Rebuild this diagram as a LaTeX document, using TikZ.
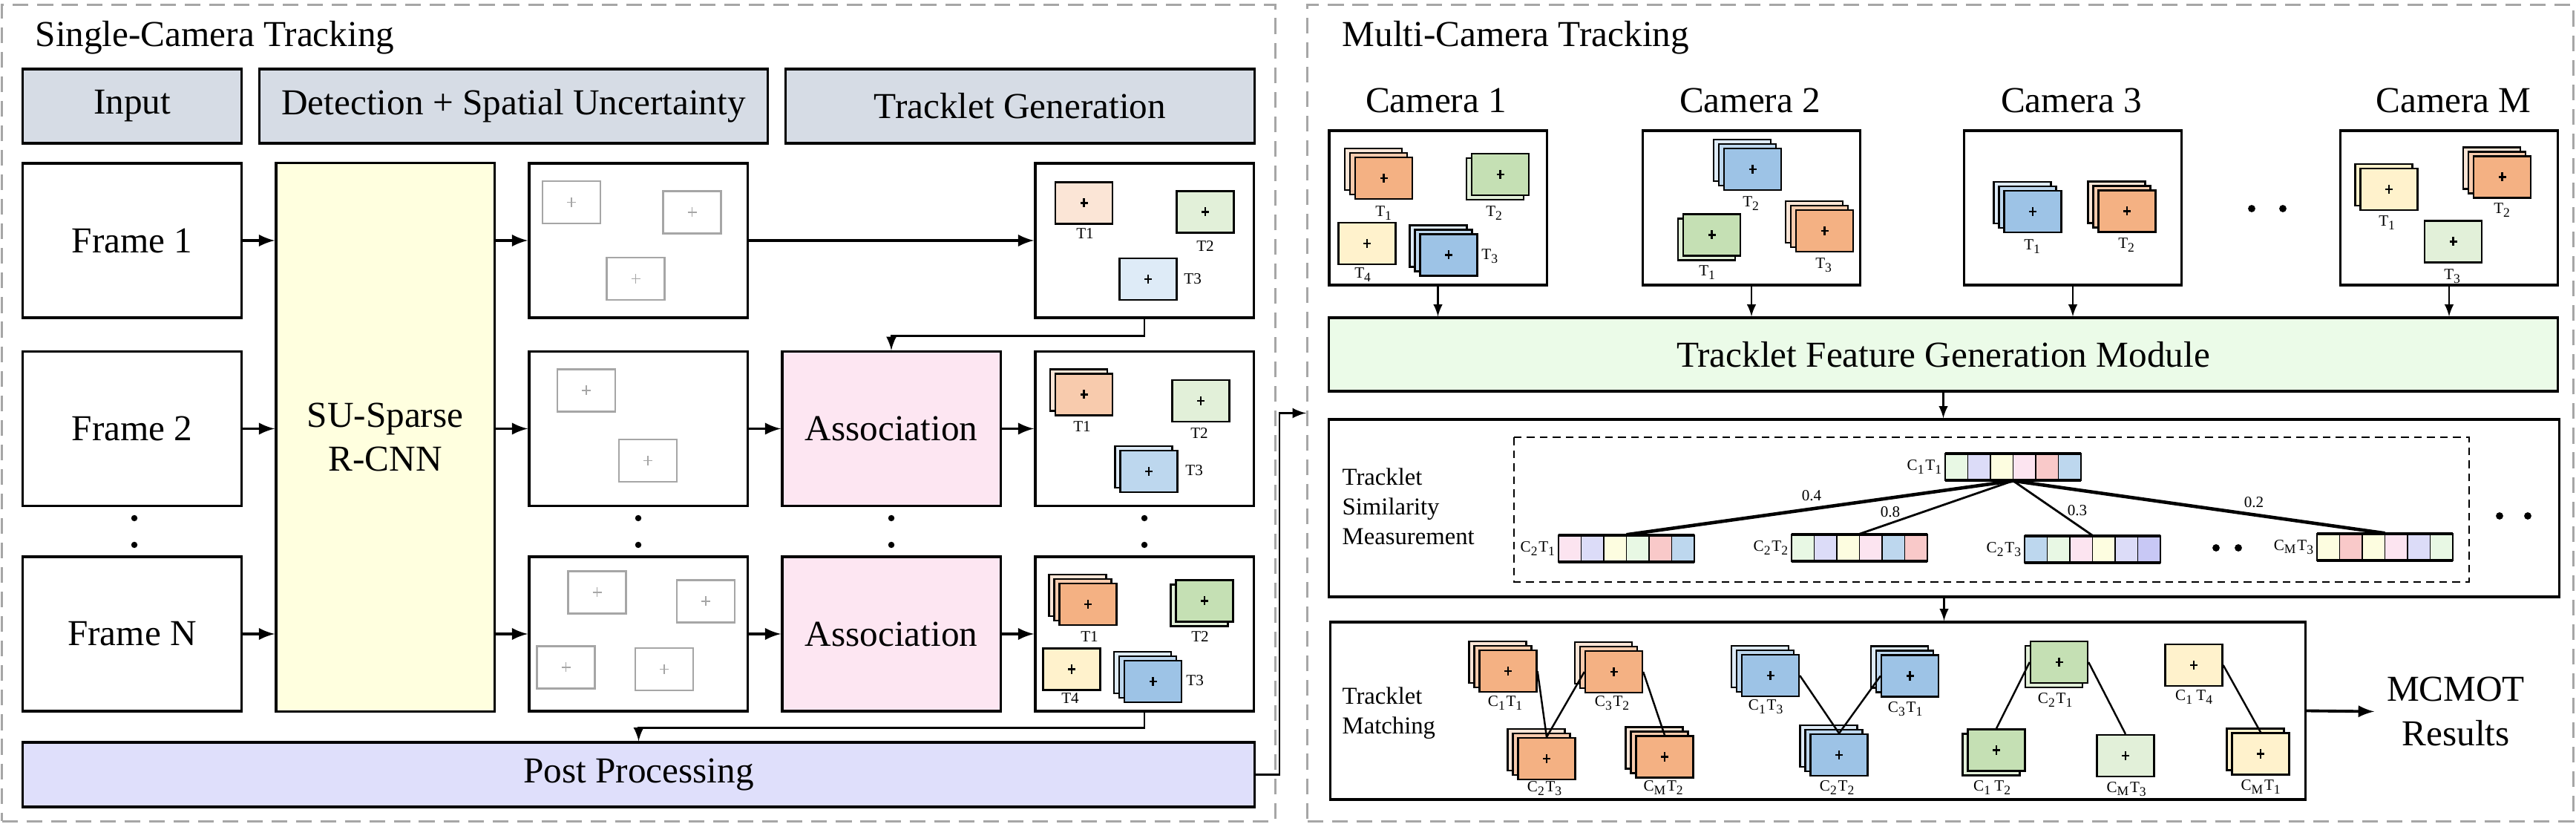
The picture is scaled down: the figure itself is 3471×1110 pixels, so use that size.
\documentclass[tikz,border=0pt]{standalone}
\usepackage{fontspec}
\setmainfont{Liberation Serif}
\usepackage{xcolor}
\usetikzlibrary{arrows}
\definecolor{dashgray}{HTML}{A6A6A6}
\definecolor{headgray}{HTML}{D6DCE5}
\definecolor{rcnnyellow}{HTML}{FFFFDF}
\definecolor{assocpink}{HTML}{FDE6F2}
\definecolor{postblue}{HTML}{DFDFFB}
\definecolor{featgreen}{HTML}{EBFBE8}
\definecolor{or1}{HTML}{FBE5D6}
\definecolor{or2}{HTML}{F8CBAD}
\definecolor{or3}{HTML}{F4B183}
\definecolor{bl1}{HTML}{DEEBF7}
\definecolor{bl2}{HTML}{BDD7EE}
\definecolor{bl3}{HTML}{9DC3E6}
\definecolor{gr1}{HTML}{E2F0D9}
\definecolor{gr2}{HTML}{C5E0B4}
\definecolor{ye1}{HTML}{FFF2CC}
\definecolor{cg}{HTML}{E8F8E4}
\definecolor{cl}{HTML}{DCDCF8}
\definecolor{cy}{HTML}{FDFDE0}
\definecolor{cp}{HTML}{FCE4F0}
\definecolor{cr}{HTML}{F9C9C9}
\definecolor{cb}{HTML}{BDD7EE}
\definecolor{cv}{HTML}{C8C8F5}

% tracklet cards
\newcommand{\backcard}[3]{\draw[backcard, fill=#3] (#1-38.5,#2-28) rectangle (#1+38.5,#2+28);}
\newcommand{\stackthree}[6]{\backcard{#2-14}{#3-12}{#4}\backcard{#2-7}{#3-6}{#5}\node[icon=#6] (#1) at (#2,#3) {};}
\newcommand{\stackup}[5]{\backcard{#2-7}{#3-6}{#4}\node[icon=#5] (#1) at (#2,#3) {};}
\newcommand{\stackdown}[5]{\backcard{#2-7}{#3+6}{#4}\node[icon=#5] (#1) at (#2,#3) {};}
\newcommand{\single}[4]{\node[icon=#4] (#1) at (#2,#3) {};}
% detections
\newcommand{\detbox}[2]{\draw[detgray] (#1-39,#2-28.5) rectangle (#1+39,#2+28.5);
  \draw[detplus] (#1,#2-6.5) -- (#1,#2+6.5) (#1-6,#2) -- (#1+6,#2);}
% feature vectors
\newcommand{\fvec}[5]{%
  \foreach \cc [count=\ii] in {#4}
    \draw[cell, fill=\cc] (#2+\ii*30.5-30.5,#3) rectangle ++(30.5,36);
  \draw[line width=1.3pt] (#2,#3) -- ++(183,0) (#2,#3+36) -- ++(183,0);
  \node[inner sep=0pt, minimum width=1.83cm, minimum height=0.36cm] (#1) at (#2+91.5,#3+18) {};
  \node[lab, anchor=east] (#1l) at (#1.west) {#5};}

\begin{document}
\begin{tikzpicture}[x=0.01cm, y=-0.01cm,
  every node/.style={font=\fontsize{14}{17}\selectfont},
  dashframe/.style={draw=dashgray, dash pattern=on 6pt off 3.4pt, line width=0.95pt, inner sep=0pt},
  box/.style={draw, line width=0.9pt, inner sep=0pt, align=center},
  icon/.style={draw, line width=0.65pt, fill=#1, minimum width=0.77cm, minimum height=0.56cm, inner sep=0pt,
    path picture={\draw[line width=0.8pt] ([yshift=0.06cm]path picture bounding box.center) -- ([yshift=-0.06cm]path picture bounding box.center)
      ([xshift=-0.05cm]path picture bounding box.center) -- ([xshift=0.05cm]path picture bounding box.center);}},
  backcard/.style={draw, line width=0.65pt},
  detgray/.style={draw=dashgray, line width=0.8pt},
  detplus/.style={draw=dashgray, line width=0.5pt},
  lab/.style={font=\fontsize{6}{7}\selectfont, inner sep=0.5pt},
  sidetext/.style={font=\fontsize{9.3}{11.4}\selectfont, inner sep=0pt, align=left},
  arr/.style={-latex, line width=1.1pt},
  elb/.style={-latex, line width=0.8pt},
  thinarr/.style={-latex, line width=0.6pt},
  cell/.style={draw, line width=0.4pt},
  simdash/.style={draw, dash pattern=on 3pt off 2pt, line width=0.6pt}]
  \useasboundingbox (0,0) rectangle (3471,1110);

  % ---------------- single camera ----------------
  \node[dashframe, minimum width=17.15cm, minimum height=10.99cm] (sct) at (860.5,556.5) {};
  \node[anchor=base west, inner sep=0pt] (sctitle) at (47,63) {Single-Camera Tracking};

  \node[box, fill=headgray, minimum width=2.94cm, minimum height=1cm] (hin) at (178,143) {Input};
  \node[box, fill=headgray, minimum width=6.84cm, minimum height=1cm] (hdet) at (692,143) {Detection + Spatial Uncertainty};
  \node[box, fill=headgray, minimum width=6.31cm, minimum height=1cm] (htrk) at (1374.5,143) {Tracklet Generation};

  \node[box, minimum width=2.94cm, minimum height=2.08cm] (frame1) at (178,324) {Frame 1};
  \node[box, minimum width=2.94cm, minimum height=2.08cm] (frame2) at (178,577.5) {Frame 2};
  \node[box, minimum width=2.94cm, minimum height=2.08cm] (frameN) at (178,854) {Frame N};
  \node[box, fill=rcnnyellow, minimum width=2.94cm, minimum height=7.38cm] (rcnn) at (519,589) {SU-Sparse\\R-CNN};

  \node[box, minimum width=2.94cm, minimum height=2.08cm] (det1) at (860,324) {};
  \node[box, minimum width=2.94cm, minimum height=2.08cm] (det2) at (860,577.5) {};
  \node[box, minimum width=2.94cm, minimum height=2.08cm] (detN) at (860,854) {};
  \node[box, fill=assocpink, minimum width=2.94cm, minimum height=2.08cm] (assoc2) at (1201,577.5) {Association};
  \node[box, fill=assocpink, minimum width=2.94cm, minimum height=2.08cm] (assocN) at (1201,854) {Association};
  \node[box, minimum width=2.94cm, minimum height=2.08cm] (trk1) at (1542,324) {};
  \node[box, minimum width=2.94cm, minimum height=2.08cm] (trk2) at (1542,577.5) {};
  \node[box, minimum width=2.94cm, minimum height=2.08cm] (trkN) at (1542,854) {};
  \node[box, fill=postblue, minimum width=16.59cm, minimum height=0.87cm] (post) at (860.5,1043.5) {Post Processing};

  % detections
  \detbox{770}{272.5} \detbox{932.5}{286} \detbox{856.5}{375.5}
  \detbox{790}{526} \detbox{873}{620.5}
  \detbox{804.5}{798} \detbox{951}{810} \detbox{762.5}{899} \detbox{895}{901.5}

  % tracklets
  \single{r1t1}{1460.5}{273.5}{or1}
  \single{r1t2}{1624}{285.5}{gr1}
  \single{r1t3}{1547}{376}{bl1}
  \node[lab] (r1t1l) at (1462,315) {T1};
  \node[lab] (r1t2l) at (1624,332) {T2};
  \node[lab, anchor=west] (r1t3l) at (1593,376) {T3};

  \stackup{r2t1}{1460.5}{531.5}{or1}{or2}
  \single{r2t2}{1618}{540}{gr1}
  \stackup{r2t3}{1548}{635}{bl1}{bl2}
  \node[lab] (r2t1l) at (1458,575) {T1};
  \node[lab] (r2t2l) at (1616,584) {T2};
  \node[lab, anchor=west] (r2t3l) at (1595,634) {T3};

  \stackthree{rnt1}{1466}{814}{or1}{or2}{or3}
  \stackdown{rnt2}{1623}{809.5}{gr1}{gr2}
  \single{rnt4}{1444}{901.5}{ye1}
  \stackthree{rnt3}{1553.5}{918}{bl1}{bl2}{bl3}
  \node[lab] (rnt1l) at (1468,858) {T1};
  \node[lab] (rnt2l) at (1617,858) {T2};
  \node[lab] (rnt4l) at (1442,941) {T4};
  \node[lab, anchor=west] (rnt3l) at (1596,917) {T3};

  \draw[arr] (frame1.east) -- (frame1.east -| rcnn.west);
  \draw[arr] (frame2.east) -- (frame2.east -| rcnn.west);
  \draw[arr] (frameN.east) -- (frameN.east -| rcnn.west);
  \draw[arr] (rcnn.east |- det1) -- (det1.west);
  \draw[arr] (rcnn.east |- det2) -- (det2.west);
  \draw[arr] (rcnn.east |- detN) -- (detN.west);
  \draw[arr] (det1) -- (trk1);
  \draw[arr] (det2) -- (assoc2);
  \draw[arr] (detN) -- (assocN);
  \draw[arr] (assoc2) -- (trk2);
  \draw[arr] (assocN) -- (trkN);
  \draw[elb] (trk1.south) -- ++(0,23) -| (assoc2.north);
  \draw[elb] (trkN.south) -- ++(0,21) -| (post.north);

  \foreach \x in {181,860,1201,1542} {
    \fill (\x,698) circle (1.2pt);
    \fill (\x,734) circle (1.2pt);
  }

  % ---------------- multi camera ----------------
  \node[dashframe, minimum width=17.05cm, minimum height=10.99cm] (mct) at (2614.5,556.5) {};
  \node[anchor=base west, inner sep=0pt] (mctitle) at (1808,63) {Multi-Camera Tracking};
  \draw[elb] (post.east) -- ++(32,0) |- (mct.west);

  \node[box, minimum width=2.93cm, minimum height=2.08cm] (cam1) at (1937.5,280) {};
  \node[box, minimum width=2.93cm, minimum height=2.08cm] (cam2) at (2360,280) {};
  \node[box, minimum width=2.93cm, minimum height=2.08cm] (cam3) at (2793,280) {};
  \node[box, minimum width=2.93cm, minimum height=2.08cm] (camM) at (3300,280) {};
  \node[anchor=base] (cam1l) at (1935,152) {Camera 1};
  \node[anchor=base] (cam2l) at (2358,152) {Camera 2};
  \node[anchor=base] (cam3l) at (2791,152) {Camera 3};
  \node[anchor=base] (camMl) at (3306,152) {Camera M};
  \fill (3034,281) circle (1.4pt) (3076,281) circle (1.4pt);

  % camera 1
  \stackthree{k1t1}{1864.5}{240}{or1}{or2}{or3}
  \stackdown{k1t2}{2021.5}{235}{gr1}{gr2}
  \single{k1t4}{1842}{328}{ye1}
  \stackthree{k1t3}{1952}{343.5}{bl1}{bl2}{bl3}
  \node[lab] (k1t1l) at (1865,287) {T\textsubscript{1}};
  \node[lab] (k1t2l) at (2014,287) {T\textsubscript{2}};
  \node[lab] (k1t4l) at (1837,370) {T\textsubscript{4}};
  \node[lab, anchor=west] (k1t3l) at (1994,345) {T\textsubscript{3}};
  % camera 2
  \stackthree{k2t2}{2361.5}{228}{bl1}{bl2}{bl3}
  \stackdown{k2t1}{2306.5}{316.5}{gr1}{gr2}
  \stackthree{k2t3}{2458.5}{311}{or1}{or2}{or3}
  \node[lab] (k2t2l) at (2360,274) {T\textsubscript{2}};
  \node[lab] (k2t1l) at (2301,367) {T\textsubscript{1}};
  \node[lab] (k2t3l) at (2458,357) {T\textsubscript{3}};
  % camera 3
  \stackthree{k3t1}{2739}{285}{bl1}{bl2}{bl3}
  \stackthree{k3t2}{2866}{284.5}{or1}{or2}{or3}
  \node[lab] (k3t1l) at (2739,332) {T\textsubscript{1}};
  \node[lab] (k3t2l) at (2866,330) {T\textsubscript{2}};
  % camera M
  \stackup{kmt1}{3219}{255}{ye1}{ye1}
  \stackthree{kmt2}{3371.5}{238.5}{or1}{or2}{or3}
  \single{kmt3}{3305.5}{325.5}{gr1}
  \node[lab] (kmt1l) at (3217,300) {T\textsubscript{1}};
  \node[lab] (kmt2l) at (3372,283) {T\textsubscript{2}};
  \node[lab] (kmt3l) at (3305,372) {T\textsubscript{3}};

  \node[box, fill=featgreen, minimum width=16.55cm, minimum height=0.99cm] (tfgm) at (2618.5,477.5) {Tracklet Feature Generation Module};
  \foreach \c in {cam1,cam2,cam3,camM}
    \draw[thinarr] (\c.south) -- (\c.south |- tfgm.north);

  % similarity
  \node[box, minimum width=16.57cm, minimum height=2.39cm] (simbox) at (2619.5,684.5) {};
  \draw[thinarr] (tfgm.south) -- (tfgm.south |- simbox.north);
  \node[sidetext, anchor=west] (simlab) at (1808,682) {Tracklet\\Similarity\\Measurement};
  \draw[simdash] (2040,589) rectangle (3327,784);
  \fvec{v11}{2621}{611}{cg,cl,cy,cp,cr,cb}{C\textsubscript{1}T\textsubscript{1}}
  \fvec{v21}{2100}{721}{cp,cl,cy,cg,cr,cb}{C\textsubscript{2}T\textsubscript{1}}
  \fvec{v22}{2414}{720}{cg,cl,cy,cp,cb,cr}{C\textsubscript{2}T\textsubscript{2}}
  \fvec{v23}{2728}{722}{cb,cg,cp,cy,cl,cv}{C\textsubscript{2}T\textsubscript{3}}
  \fvec{vm3}{3122}{719}{cy,cr,cy,cp,cl,cg}{C\textsubscript{M}T\textsubscript{3}}
  \draw[line width=1.3pt] (v11.south) -- (v21.north);
  \draw[line width=0.8pt] (v11.south) -- (v22.north);
  \draw[line width=0.8pt] (v11.south) -- (v23.north);
  \draw[line width=1.3pt] (v11.south) -- (vm3.north);
  \node[lab] (w21) at (2441,668) {0.4};
  \node[lab] (w22) at (2547,690) {0.8};
  \node[lab] (w23) at (2799,688) {0.3};
  \node[lab] (wm3) at (3037,677) {0.2};
  \fill (2986,738) circle (1.4pt) (3016,738) circle (1.4pt);
  \fill (3368,695) circle (1.4pt) (3406,695) circle (1.4pt);

  % matching
  \node[box, minimum width=13.13cm, minimum height=2.39cm] (matchbox) at (2449.5,957.5) {};
  \draw[thinarr] (simbox.south) -- (simbox.south |- matchbox.north);
  \node[sidetext, anchor=west] (matchlab) at (1808,960.5) {Tracklet\\Matching};
  \stackthree{m11}{2032}{904}{or1}{or2}{or3}
  \stackthree{m32}{2174.5}{905}{or1}{or2}{or3}
  \stackthree{m23}{2084}{1022}{or1}{or2}{or3}
  \stackthree{mm2}{2243}{1019.5}{or1}{or2}{or3}
  \stackthree{m13}{2385.5}{910}{bl1}{bl2}{bl3}
  \stackthree{m31}{2573.5}{910.5}{bl1}{bl2}{bl3}
  \stackthree{m22}{2478}{1017}{bl1}{bl2}{bl3}
  \stackdown{m21}{2774.5}{892}{gr1}{gr2}
  \single{m14}{2956}{896}{ye1}
  \stackdown{m12}{2690}{1010.5}{gr1}{gr2}
  \single{mm3}{2864}{1018}{gr1}
  \stackup{mm1}{3046}{1015.5}{ye1}{ye1}
  \node[lab] (m11l) at (2029,947) {C\textsubscript{1}T\textsubscript{1}};
  \node[lab] (m32l) at (2173,947) {C\textsubscript{3}T\textsubscript{2}};
  \node[lab] (m13l) at (2380,952) {C\textsubscript{1}T\textsubscript{3}};
  \node[lab] (m31l) at (2568,955) {C\textsubscript{3}T\textsubscript{1}};
  \node[lab] (m21l) at (2770,943) {C\textsubscript{2}T\textsubscript{1}};
  \node[lab] (m14l) at (2957,939) {C\textsubscript{1}\,T\textsubscript{4}};
  \node[lab] (m23l) at (2082,1062) {C\textsubscript{2}T\textsubscript{3}};
  \node[lab] (mm2l) at (2242,1061) {C\textsubscript{M}T\textsubscript{2}};
  \node[lab] (m22l) at (2476,1061) {C\textsubscript{2}T\textsubscript{2}};
  \node[lab] (m12l) at (2685,1061) {C\textsubscript{1}\,T\textsubscript{2}};
  \node[lab] (mm3l) at (2866,1063) {C\textsubscript{M}T\textsubscript{3}};
  \node[lab] (mm1l) at (3047,1060) {C\textsubscript{M}T\textsubscript{1}};
  \draw[line width=0.7pt] (m11.east) -- (m23.north);
  \draw[line width=0.7pt] (m32.west) -- (m23.north);
  \draw[line width=0.7pt] (m32.east) -- (mm2.north);
  \draw[line width=0.7pt] (m13.east) -- (m22.north);
  \draw[line width=0.7pt] (m31.west) -- (m22.north);
  \draw[line width=0.7pt] (m21.west) -- (m12.north);
  \draw[line width=0.7pt] (m21.east) -- (mm3.north);
  \draw[line width=0.7pt] (m14.east) -- (mm1.north);

  \node[align=center, inner xsep=4.6pt, inner ysep=0pt] (result) at (3309,958.5) {MCMOT\\Results};
  \draw[arr] (matchbox.east) -- (result.west);
\end{tikzpicture}
\end{document}
